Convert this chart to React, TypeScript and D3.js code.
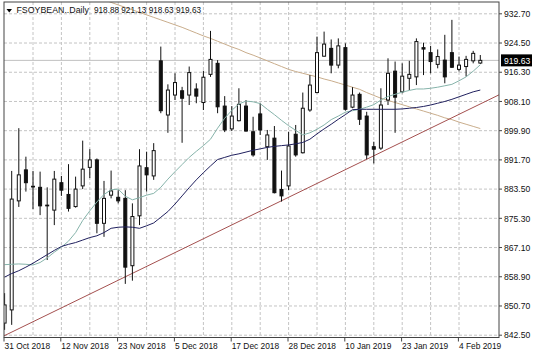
import React from 'react';
import * as d3 from 'd3';

const symbolName = 'FSOYBEAN..Daily';
const lastQuote = ['918.88', '921.13', '918.63', '919.63'];

const openValues = [845.9, 849.6, 880.2, 888.9, 884.3, 884.0, 879.0, 877.6, 885.3, 882.0, 878.6, 884.4, 889.6, 891.7, 873.9, 881.8, 881.2, 880.9, 862.0, 876.0, 889.5, 887.2, 919.5, 904.3, 909.9, 911.1, 909.9, 911.6, 907.8, 915.7, 918.8, 906.8, 900.4, 902.7, 906.8, 899.6, 904.6, 895.4, 897.8, 883.4, 884.4, 898.9, 893.7, 905.7, 910.6, 920.8, 923.0, 918.3, 923.2, 906.5, 910.1, 904.0, 895.4, 895.0, 908.5, 916.6, 910.8, 914.6, 915.0, 923.2, 921.8, 918.5, 919.7, 921.8, 917.1, 917.9, 919.5, 918.88];
const highValues = [854.3, 888.6, 900.6, 892.6, 888.6, 888.4, 884.0, 888.6, 887.2, 890.5, 887.0, 897.1, 894.7, 892.1, 885.8, 888.7, 883.2, 883.2, 879.5, 894.7, 894.0, 896.4, 923.5, 912.9, 916.0, 912.2, 917.9, 913.2, 916.7, 927.9, 919.7, 909.6, 906.8, 911.8, 908.5, 903.8, 907.6, 900.1, 901.2, 888.7, 899.6, 901.5, 910.6, 915.5, 926.3, 927.7, 925.5, 925.8, 924.4, 912.1, 910.6, 905.2, 896.8, 911.8, 920.2, 919.3, 918.8, 919.5, 925.8, 924.6, 923.7, 922.7, 926.8, 931.0, 920.7, 920.9, 922.3, 921.13];
const lowValues = [844.0, 845.4, 878.5, 882.8, 877.9, 876.2, 863.6, 873.4, 881.6, 877.2, 878.3, 883.5, 886.6, 871.1, 870.1, 880.9, 879.5, 856.9, 857.8, 873.4, 882.8, 886.1, 904.8, 899.3, 908.5, 896.5, 907.1, 907.6, 905.7, 915.0, 904.8, 899.5, 899.8, 902.5, 899.6, 892.6, 898.7, 891.7, 882.3, 880.0, 883.2, 892.6, 893.5, 905.2, 910.4, 920.7, 916.0, 917.4, 905.5, 906.2, 901.5, 891.9, 890.7, 894.5, 907.1, 899.3, 910.4, 911.3, 912.7, 915.5, 916.0, 917.4, 913.2, 917.5, 916.5, 915.1, 918.8, 918.63];
const closeValues = [851.0, 880.7, 887.5, 885.3, 884.1, 878.8, 878.8, 886.3, 883.2, 878.1, 883.5, 889.1, 891.7, 873.9, 880.9, 883.0, 880.2, 861.6, 875.8, 890.0, 887.5, 894.3, 905.5, 911.3, 913.4, 909.0, 916.2, 909.6, 914.9, 919.9, 906.6, 900.1, 904.0, 907.3, 899.8, 893.1, 900.1, 898.7, 882.5, 881.6, 895.6, 893.1, 906.2, 912.7, 921.8, 924.2, 918.3, 923.7, 905.9, 909.9, 903.1, 893.1, 894.7, 907.1, 916.0, 909.3, 915.2, 915.7, 924.9, 922.8, 919.3, 920.7, 915.0, 917.7, 918.3, 919.9, 921.6, 919.63];

const fastMA = [862.3, 862.4, 862.5, 862.4, 862.2, 862.9, 864.2, 865.8, 867.2, 868.9, 871.3, 874.7, 877.4, 879.9, 882.0, 883.3, 883.5, 881.5, 880.5, 881.1, 881.8, 882.3, 884.0, 886.3, 888.4, 890.4, 892.4, 894.1, 895.7, 897.5, 900.6, 903.4, 905.6, 907.4, 908.2, 908.0, 907.5, 905.9, 904.4, 902.8, 901.3, 900.0, 898.7, 899.3, 900.3, 901.5, 903.0, 904.0, 905.1, 905.5, 905.9, 906.5, 907.2, 908.5, 909.5, 910.1, 910.7, 911.2, 911.6, 911.6, 911.8, 912.1, 912.5, 912.9, 913.9, 915.0, 916.6, 918.4];
const slowMA = [858.8, 859.8, 860.6, 861.6, 862.7, 863.9, 865.1, 866.3, 867.4, 868.0, 868.5, 869.2, 869.9, 870.4, 871.3, 872.5, 872.8, 872.9, 872.8, 872.5, 873.2, 874.0, 875.6, 877.2, 879.3, 881.6, 883.9, 886.1, 888.1, 890.0, 891.8, 892.4, 893.0, 893.4, 893.9, 894.4, 894.8, 895.2, 895.5, 895.7, 895.9, 896.2, 896.6, 897.5, 899.0, 900.4, 901.7, 903.1, 904.4, 905.8, 905.9, 905.9, 905.9, 905.9, 905.9, 905.9, 906.0, 906.2, 906.4, 906.7, 907.1, 907.6, 908.1, 908.7, 909.4, 910.1, 910.8, 911.3];
const longMA: (number | null)[] = [null, null, null, null, null, null, null, null, null, null, null, null, null, null, 936.7, 935.9, 935.2, 934.5, 933.8, 933.1, 932.4, 931.7, 931.0, 930.3, 929.6, 928.9, 928.1, 927.3, 926.5, 925.8, 925.0, 924.2, 923.4, 922.7, 921.8, 921.1, 920.3, 919.5, 918.7, 917.9, 917.1, 916.5, 916.0, 915.5, 915.0, 914.4, 913.9, 913.3, 912.7, 912.1, 911.5, 910.6, 909.8, 909.0, 908.4, 907.8, 907.2, 906.6, 906.0, 905.4, 904.8, 904.2, 903.5, 903.0, 902.3, 901.7, 901.1, 900.5];

// trend line anchors: [bar index, price]
const trendIndex = [0, 67];
const trendPrice = [842.4, 907.4];

const priceTicks = [932.7, 924.5, 916.3, 908.1, 899.9, 891.7, 883.5, 875.3, 867.1, 858.9, 850.7, 842.5];
const dateLabels = ['31 Oct 2018', '12 Nov 2018', '23 Nov 2018', '5 Dec 2018', '17 Dec 2018', '28 Dec 2018', '10 Jan 2019', '23 Jan 2019', '4 Feb 2019'];
const dateLabelIndex = [0, 8, 16, 24, 32, 40, 48, 56, 64];
const gridIndex = [4, 8, 12, 16, 20, 24, 28, 32, 36, 40, 44, 48, 52, 56, 60, 64];

const FONT = '"Liberation Sans", Arial, sans-serif';

export default function App() {
  const left = 4, right = 499, top = 2, bottom = 337.5;
  const n = closeValues.length;
  const x = d3.scaleLinear().domain([0, n - 1]).range([4.6, 480.3]);
  const y = d3.scaleLinear().domain([842.5, 932.7]).range([335.2, 13.8]);
  const fmt = d3.format('.2f');

  const maLine = d3.line<number | null>()
    .defined((d) => d !== null)
    .x((_, i) => x(i))
    .y((d) => y(d as number));

  const slope = (trendPrice[1] - trendPrice[0]) / (trendIndex[1] - trendIndex[0]);
  const trendAt = (i: number) => trendPrice[0] + slope * (i - trendIndex[0]);
  const iLeft = x.invert(left);
  const iRight = x.invert(right);

  const last = closeValues[n - 1];
  const lastY = y(last);

  return (
    <svg width={536} height={358} style={{ position: 'absolute', left: 0, top: 0, background: '#fff' }}>
      <defs>
        <clipPath id="plot">
          <rect x={left} y={top} width={right - left} height={bottom - top} />
        </clipPath>
      </defs>
      <rect x={0} y={0} width={536} height={358} fill="#fff" />
      <g stroke="#c4c4c4" strokeWidth={1} strokeDasharray="3,2">
        {priceTicks.map((p) => (
          <line key={'h' + p} x1={left} x2={right} y1={y(p)} y2={y(p)} />
        ))}
        {gridIndex.map((i) => (
          <line key={'v' + i} x1={x(i)} x2={x(i)} y1={top} y2={bottom} />
        ))}
      </g>
      <line x1={left} x2={right} y1={lastY} y2={lastY} stroke="#c0c0c0" strokeWidth={1} />
      <g clipPath="url(#plot)">
        <path d={maLine(longMA) || ''} fill="none" stroke="#c9ad8c" strokeWidth={1} />
        <line x1={left} y1={y(trendAt(iLeft))} x2={right} y2={y(trendAt(iRight))} stroke="#a4504f" strokeWidth={1} />
        {closeValues.map((c, i) => {
          const o = openValues[i];
          const cx = x(i);
          const bull = c >= o;
          const yTop = y(Math.max(o, c));
          const yBot = y(Math.min(o, c));
          return (
            <g key={i}>
              <line x1={cx} x2={cx} y1={y(highValues[i])} y2={y(lowValues[i])} stroke="#111" strokeWidth={1} />
              <rect x={cx - 1.5} y={yTop} width={3} height={Math.max(0.4, yBot - yTop)} fill={bull ? '#fff' : '#111'} stroke="#111" strokeWidth={1} />
            </g>
          );
        })}
        <path d={maLine(fastMA) || ''} fill="none" stroke="#86b3aa" strokeWidth={1} />
        <path d={maLine(slowMA) || ''} fill="none" stroke="#20205e" strokeWidth={1} />
      </g>
      <rect x={left} y={top} width={right - left} height={bottom - top} fill="none" stroke="#444" strokeWidth={1} />
      <g fontFamily={FONT} fontSize={8.6} fill="#111">
        {priceTicks.map((p) => (
          <g key={'t' + p}>
            <line x1={right} x2={right + 3} y1={y(p)} y2={y(p)} stroke="#444" />
            <text x={504} y={y(p) + 3.2}>{fmt(p)}</text>
          </g>
        ))}
        <rect x={501} y={lastY - 6} width={31} height={12} fill="#000" />
        <text x={504} y={lastY + 3.2} fill="#fff">{fmt(last)}</text>
      </g>
      <g fontFamily={FONT} fontSize={8.4} fill="#111">
        {dateLabels.map((d, k) => {
          const tx = x(dateLabelIndex[k]) - 0.6;
          return (
            <g key={d}>
              <line x1={tx} x2={tx} y1={bottom} y2={bottom + 4} stroke="#444" />
              <text x={tx + 0.5} y={349}>{d}</text>
            </g>
          );
        })}
      </g>
      <path d="M6.5,9 L12,9 L9.25,12.5 Z" fill="#000" />
      <text x={16.5} y={13.3} fontFamily={FONT} fontSize={8.8} fill="#111">{symbolName}</text>
      <text x={94} y={13.3} fontFamily={FONT} fontSize={8.2} fill="#111">{lastQuote.join(' ')}</text>
    </svg>
  );
}
